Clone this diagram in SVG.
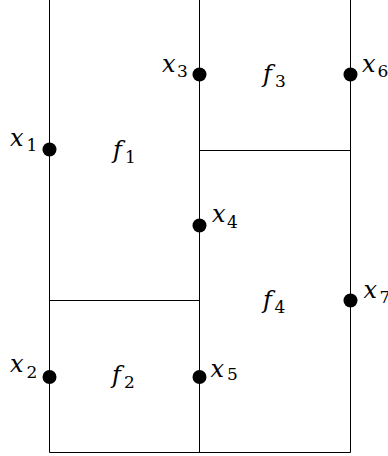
<svg xmlns="http://www.w3.org/2000/svg" width="388" height="456" viewBox="0 0 388 456">
<style>
.ln{stroke:#000;stroke-width:1;fill:none}
.pt{fill:#000}
</style>
<rect width="388" height="456" fill="#fff"/>
<g id="edges">
<line class="ln" x1="49.5" y1="0" x2="49.5" y2="452.5"/>
<line class="ln" x1="199.5" y1="0" x2="199.5" y2="452.5"/>
<line class="ln" x1="350.5" y1="0" x2="350.5" y2="452.5"/>
<line class="ln" x1="199.5" y1="150.5" x2="350.5" y2="150.5"/>
<line class="ln" x1="49.5" y1="300.5" x2="199.5" y2="300.5"/>
<line class="ln" x1="49.5" y1="452.5" x2="350.5" y2="452.5"/>
</g>
<g font-family="'DejaVu Serif', 'Liberation Serif', serif" font-style="italic" font-size="24" fill="#000">
<g id="x1"><circle class="pt" cx="49.5" cy="149.5" r="7"/><text x="10" y="145.5">x<tspan font-style="normal" font-size="17" x="26.5" y="150.7">1</tspan></text></g>
<g id="x2"><circle class="pt" cx="49.5" cy="377" r="7"/><text x="10" y="372">x<tspan font-style="normal" font-size="17" x="26.5" y="378">2</tspan></text></g>
<g id="x3"><circle class="pt" cx="199.5" cy="74.5" r="7"/><text x="162" y="71.7">x<tspan font-style="normal" font-size="17" x="177" y="76.5">3</tspan></text></g>
<g id="x4"><circle class="pt" cx="199.5" cy="225.5" r="7"/><text x="212" y="222.3">x<tspan font-style="normal" font-size="17" x="227" y="227.5">4</tspan></text></g>
<g id="x5"><circle class="pt" cx="199.5" cy="377" r="7"/><text x="210.5" y="376.7">x<tspan font-style="normal" font-size="17" x="227" y="380">5</tspan></text></g>
<g id="x6"><circle class="pt" cx="350.5" cy="74.5" r="7"/><text x="362" y="71.7">x<tspan font-style="normal" font-size="17" x="377.5" y="76.5">6</tspan></text></g>
<g id="x7"><circle class="pt" cx="350.5" cy="300.5" r="7"/><text x="363.5" y="298.3">x<tspan font-style="normal" font-size="17" x="379.5" y="303">7</tspan></text></g>
<g id="f1"><text x="113" y="157.5">f<tspan font-style="normal" font-size="17" x="125" y="162.7">1</tspan></text></g>
<g id="f2"><text x="112" y="383">f<tspan font-style="normal" font-size="17" x="124" y="388.3">2</tspan></text></g>
<g id="f3"><text x="263" y="81.5">f<tspan font-style="normal" font-size="17" x="275" y="86.7">3</tspan></text></g>
<g id="f4"><text x="263" y="308">f<tspan font-style="normal" font-size="17" x="274.5" y="313.3">4</tspan></text></g>
</g>
</svg>
